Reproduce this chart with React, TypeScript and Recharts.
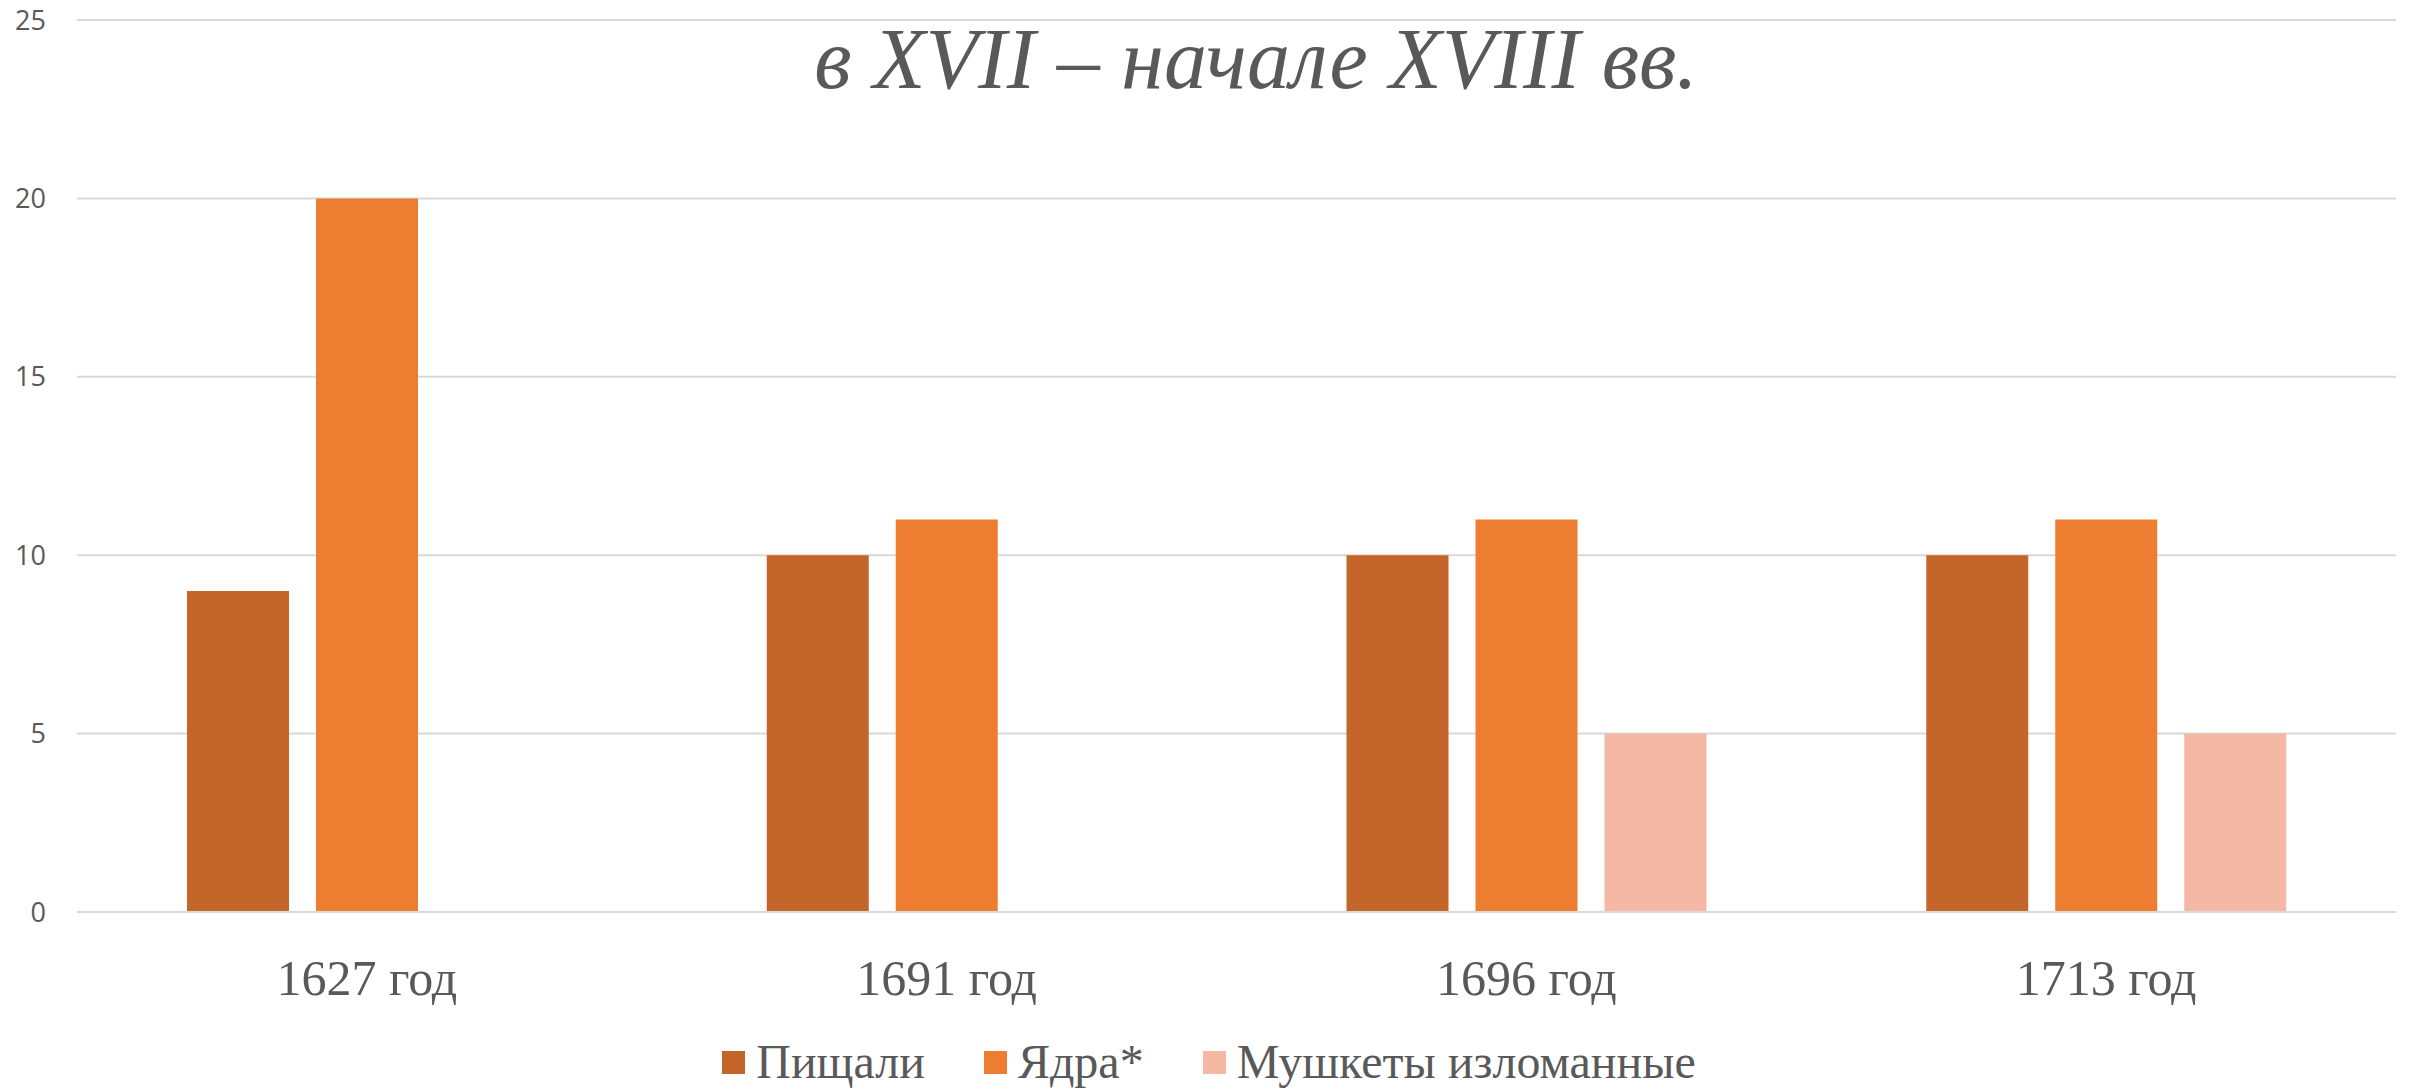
import React from "react";
import {
  BarChart,
  Bar,
  XAxis,
  YAxis,
  CartesianGrid,
  Legend,
} from "recharts";

const years = ["1627 год", "1691 год", "1696 год", "1713 год"];
const pishchali = [9, 10, 10, 10];
const yadra = [20, 11, 11, 11];
const mushkety = [null, null, 5, 5];
const yTicks = [0, 5, 10, 15, 20, 25];

const series = [
  { key: "pishchali", name: "Пищали", color: "#C4652A" },
  { key: "yadra", name: "Ядра*", color: "#ED7D31" },
  { key: "mushkety", name: "Мушкеты изломанные", color: "#F4B8A5" },
];

const data = years.map((year, i) => ({
  year,
  pishchali: pishchali[i],
  yadra: yadra[i],
  mushkety: mushkety[i],
}));

const W = 2409;
const H = 1089;
const TEXT = "#595959";
const SERIF = "Liberation Serif";

const YearTick = (props: any) => {
  const { x, y, payload } = props;
  return (
    <text
      x={x}
      y={y}
      dy={83}
      textAnchor="middle"
      fill={TEXT}
      fontFamily={SERIF}
      fontSize={50}
    >
      {payload.value}
    </text>
  );
};

const LegendContent = () => (
  <div
    style={{
      display: "flex",
      justifyContent: "center",
      alignItems: "center",
      paddingLeft: 9,
      fontFamily: SERIF,
      fontSize: 48,
      lineHeight: "48px",
      color: TEXT,
    }}
  >
    {series.map((s, i) => (
      <div
        key={s.key}
        style={{
          display: "flex",
          alignItems: "center",
          marginLeft: i === 0 ? 0 : 59,
        }}
      >
        <span
          style={{
            display: "inline-block",
            width: 23,
            height: 23,
            background: s.color,
            marginRight: 11,
          }}
        />
        <span>{s.name}</span>
      </div>
    ))}
  </div>
);

export default function App() {
  return (
    <div
      style={{
        position: "absolute",
        left: 0,
        top: 0,
        width: W,
        height: H,
        background: "#fff",
        overflow: "hidden",
      }}
    >
      <BarChart
        width={W}
        height={H}
        data={data}
        margin={{ top: 20, right: 13, bottom: 0, left: 0 }}
        barCategoryGap={110}
        barGap={27}
      >
        <CartesianGrid vertical={false} stroke="#D9D9D9" strokeWidth={2} />
        <XAxis
          dataKey="year"
          height={177}
          axisLine={{ stroke: "#D9D9D9", strokeWidth: 2 }}
          tickLine={false}
          tickSize={0}
          tickMargin={0}
          tick={<YearTick />}
          interval={0}
        />
        <YAxis
          width={77}
          domain={[0, 25]}
          ticks={yTicks}
          axisLine={false}
          tickLine={false}
          tickSize={0}
          tickMargin={31}
          tick={{ fill: TEXT, fontSize: 27, fontFamily: "Open Sans" }}
        />
        <Legend
          layout="horizontal"
          verticalAlign="middle"
          align="center"
          content={<LegendContent />}
          wrapperStyle={{ position: "absolute", top: 1038, left: 0, width: W }}
        />
        {series.map((s) => (
          <Bar
            key={s.key}
            dataKey={s.key}
            name={s.name}
            fill={s.color}
            isAnimationActive={false}
          />
        ))}
      </BarChart>
      <svg
        width={W}
        height={120}
        style={{ position: "absolute", left: 0, top: 0, pointerEvents: "none" }}
      >
        <text
          x={1256}
          y={88}
          textAnchor="middle"
          fill={TEXT}
          fontFamily={SERIF}
          fontStyle="italic"
          fontSize={86}
        >
          в XVII – начале XVIII вв.
        </text>
      </svg>
    </div>
  );
}
